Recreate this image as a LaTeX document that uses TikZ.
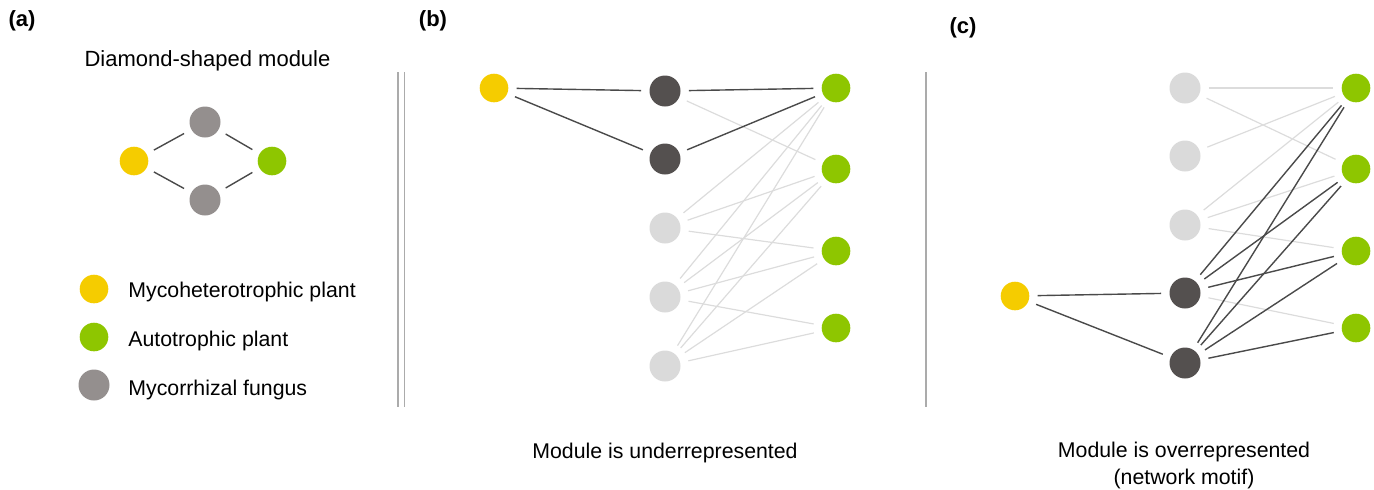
\documentclass[tikz,border=0pt]{standalone}
\usepackage{fontspec}
\setmainfont{Liberation Sans}
\definecolor{cyel}{HTML}{F5CC00}
\definecolor{cgrn}{HTML}{8EC600}
\definecolor{cfung}{HTML}{948F8E}
\definecolor{cdark}{HTML}{54504F}
\definecolor{clight}{HTML}{DADADA}
\definecolor{cdline}{HTML}{4A4A4A}
\definecolor{clline}{HTML}{DCDCDC}
\definecolor{csep}{HTML}{ABABAB}
\begin{document}
\begin{tikzpicture}[x=0.5pt,y=-0.5pt,
  plantY/.style={circle,fill=cyel,minimum size=14.3pt,inner sep=0pt},
  plantG/.style={circle,fill=cgrn,minimum size=14.3pt,inner sep=0pt},
  fung/.style={circle,fill=cfung,minimum size=15.5pt,inner sep=0pt},
  fdark/.style={fung,fill=cdark},
  flight/.style={fung,fill=clight},
  dedge/.style={draw=cdline,line width=0.7pt,shorten <=4pt,shorten >=4pt},
  ledge/.style={draw=clline,line width=0.6pt,shorten <=4pt,shorten >=4pt},
  sepline/.style={draw=csep,line width=0.8pt},
  txt/.style={font=\fontsize{11}{13}\selectfont,inner sep=0pt},
  stxt/.style={font=\fontsize{10.65}{13}\selectfont,inner sep=0pt},
  lbl/.style={font=\bfseries\fontsize{11}{13}\selectfont,inner sep=0pt}]
\useasboundingbox (0,0) rectangle (1374,489);

% ---------- panel (a)
\node[lbl] (la) at (22,21) {(a)};
\node[txt,anchor=base] (ta) at (207.5,66) {Diamond-shaped module};
\node[plantY] (aY) at (134,161) {};
\node[fung] (aT) at (205,122) {};
\node[fung] (aB) at (205,200) {};
\node[plantG] (aG) at (272,161) {};
\draw[dedge] (aY) -- (aT);
\draw[dedge] (aY) -- (aB);
\draw[dedge] (aT) -- (aG);
\draw[dedge] (aB) -- (aG);

\node[plantY] (kY) at (94,289) {};
\node[plantG] (kG) at (94,337) {};
\node[fung] (kF) at (94,385) {};
\node[stxt,anchor=base west] (tY) at (128,297) {Mycoheterotrophic plant};
\node[stxt,anchor=base west] (tG) at (128,346) {Autotrophic plant};
\node[stxt,anchor=base west] (tF) at (128,395) {Mycorrhizal fungus};

\coordinate (s1t) at (397.7,72);
\coordinate (s1b) at (397.7,406.5);
\coordinate (s2t) at (404.3,72);
\coordinate (s2b) at (404.3,406.5);
\draw[sepline] (s1t) -- (s1b);
\draw[sepline] (s2t) -- (s2b);

% ---------- panel (b)
\node[lbl] (lb) at (433,21) {(b)};
\node[plantY] (bY) at (494,88) {};
\node[fdark] (bD1) at (665,91) {};
\node[fdark] (bD2) at (665,159) {};
\node[flight] (bL1) at (665,228) {};
\node[flight] (bL2) at (665,297) {};
\node[flight] (bL3) at (665,366) {};
\node[plantG] (bG1) at (836,88) {};
\node[plantG] (bG2) at (836,169) {};
\node[plantG] (bG3) at (836,251) {};
\node[plantG] (bG4) at (836,328) {};
\draw[ledge] (bD1) -- (bG2);
\foreach \g in {1,2,3} \draw[ledge] (bL1) -- (bG\g);
\foreach \g in {1,2,3,4} \draw[ledge] (bL2) -- (bG\g);
\foreach \g in {1,2,3,4} \draw[ledge] (bL3) -- (bG\g);
\draw[dedge] (bY) -- (bD1);
\draw[dedge] (bY) -- (bD2);
\draw[dedge] (bD1) -- (bG1);
\draw[dedge] (bD2) -- (bG1);
\node[stxt,anchor=base] (tb) at (665,458) {Module is underrepresented};

\coordinate (s3t) at (925.7,72);
\coordinate (s3b) at (925.7,406.5);
\draw[sepline] (s3t) -- (s3b);

% ---------- panel (c)
\node[lbl] (lc) at (963,28) {(c)};
\node[plantY] (cY) at (1015,296) {};
\node[flight] (cL1) at (1185,88) {};
\node[flight] (cL2) at (1185,156) {};
\node[flight] (cL3) at (1185,225) {};
\node[fdark] (cD1) at (1185,293) {};
\node[fdark] (cD2) at (1185,363) {};
\node[plantG] (cG1) at (1356,88) {};
\node[plantG] (cG2) at (1356,169) {};
\node[plantG] (cG3) at (1356,251) {};
\node[plantG] (cG4) at (1356,328) {};
\draw[ledge] (cL1) -- (cG1);
\draw[ledge] (cL1) -- (cG2);
\draw[ledge] (cL2) -- (cG1);
\foreach \g in {1,2,3} \draw[ledge] (cL3) -- (cG\g);
\draw[ledge] (cD1) -- (cG4);
\draw[dedge] (cY) -- (cD1);
\draw[dedge] (cY) -- (cD2);
\foreach \g in {1,2,3} \draw[dedge] (cD1) -- (cG\g);
\foreach \g in {1,2,3,4} \draw[dedge] (cD2) -- (cG\g);
\node[stxt,anchor=base] (tc1) at (1184,457) {Module is overrepresented};
\node[stxt,anchor=base] (tc2) at (1184,484) {(network motif)};
\end{tikzpicture}
\end{document}
